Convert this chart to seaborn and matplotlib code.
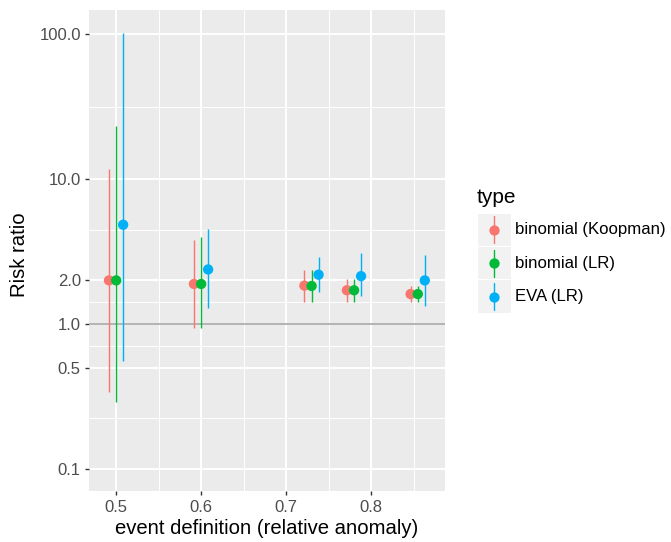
import matplotlib
matplotlib.use("Agg")
import matplotlib.pyplot as plt
from matplotlib.lines import Line2D
from matplotlib.patches import Rectangle
import numpy as np
import pandas as pd
import seaborn as sns

# event definitions (relative anomaly) and method types
event_levels = [0.5, 0.6, 0.73, 0.78, 0.855]
types = ["binomial (Koopman)", "binomial (LR)", "EVA (LR)"]

# risk ratio estimates and confidence bounds
rr_koopman = [2.0, 1.89, 1.84, 1.71, 1.61]
lo_koopman = [0.34, 0.94, 1.43, 1.42, 1.41]
hi_koopman = [11.8, 3.8, 2.35, 2.03, 1.84]

rr_lr = [2.0, 1.89, 1.83, 1.71, 1.61]
lo_lr = [0.29, 0.94, 1.43, 1.42, 1.41]
hi_lr = [23.1, 3.96, 2.35, 2.04, 1.84]

rr_eva = [4.84, 2.38, 2.19, 2.14, 2.0]
lo_eva = [0.56, 1.30, 1.67, 1.57, 1.34]
hi_eva = [101.0, 4.5, 2.88, 3.1, 2.99]

y_breaks = [0.1, 0.5, 1.0, 2.0, 10.0, 100.0]
y_labels = ["0.1", "0.5", "1.0", "2.0", "10.0", "100.0"]
x_breaks = [0.5, 0.6, 0.7, 0.8]
x_labels = ["0.5", "0.6", "0.7", "0.8"]

palette = {"binomial (Koopman)": "#F8766D", "binomial (LR)": "#00BA38", "EVA (LR)": "#00B0F6"}
dodge = {"binomial (Koopman)": -0.0085, "binomial (LR)": 0.0, "EVA (LR)": 0.0082}

frames = []
for name, rr, lo, hi in zip(types, [rr_koopman, rr_lr, rr_eva],
                            [lo_koopman, lo_lr, lo_eva], [hi_koopman, hi_lr, hi_eva]):
    frames.append(pd.DataFrame({"event": event_levels, "type": name, "rr": rr, "lo": lo, "hi": hi}))
df = pd.concat(frames, ignore_index=True)
df["x"] = df["event"] + df["type"].map(dodge)

sns.set_theme(style="darkgrid")
plt.rcParams["font.family"] = ["Liberation Sans", "DejaVu Sans"]

W, H = 671, 542
fig = plt.figure(figsize=(W / 100, H / 100), dpi=100)
left, right, top, bottom = 88.5, 445, 10, 490.5
ax = fig.add_axes([left / W, 1 - bottom / H, (right - left) / W, (bottom - top) / H])
ax.set_facecolor("#EBEBEB")
for s in ax.spines.values():
    s.set_visible(False)

ax.set_yscale("log")
ax.set_xlim(0.4674, 0.887)
ax.set_ylim(10 ** -1.148, 10 ** 2.166)

# grid: major + ggplot-style minor breaks (midpoints)
lb = np.log10(y_breaks)
y_minor = 10 ** ((lb[:-1] + lb[1:]) / 2)
x_minor = [0.55, 0.65, 0.75, 0.85]
ax.set_yticks(y_breaks)
ax.set_yticklabels(y_labels)
ax.set_yticks(y_minor, minor=True)
ax.set_xticks(x_breaks)
ax.set_xticklabels(x_labels)
ax.set_xticks(x_minor, minor=True)
ax.yaxis.set_minor_formatter(matplotlib.ticker.NullFormatter())
ax.grid(which="major", color="white", linewidth=1.4)
ax.grid(which="minor", color="white", linewidth=0.7)
ax.tick_params(which="major", length=3, width=1.0, color="#333333", labelsize=12,
               labelcolor="#4D4D4D", pad=2.5, bottom=True, left=True)
ax.tick_params(axis="x", which="major", pad=4)
ax.tick_params(which="minor", length=0)
ax.set_axisbelow(True)

ax.axhline(1.0, color="#B3B3B3", linewidth=1.4, zorder=1.5)

for name in types:
    sub = df[df["type"] == name]
    ax.vlines(sub["x"], sub["lo"], sub["hi"], colors=palette[name], linewidth=1.0, zorder=2)
sns.scatterplot(data=df, x="x", y="rr", hue="type", palette=palette, s=55,
                edgecolor="none", linewidth=0, legend=False, ax=ax, zorder=3)

ax.set_xlabel("event definition (relative anomaly)", fontsize=14.6, color="black", labelpad=3)
ax.set_ylabel("Risk ratio", fontsize=14.6, color="black", va="center")
ax.yaxis.set_label_coords((19 - left) / (right - left), 0.49)

# legend drawn ggplot-style with grey key boxes
def fx(px):
    return px / W

def fy(py):
    return 1 - py / H

fig.text(fx(477), fy(203), "type", fontsize=15, color="black", va="baseline", ha="left")
key_w, key_h = 32.5, 32.5
for i, name in enumerate(types):
    y0 = 213.5 + i * 33.4
    fig.add_artist(Rectangle((fx(478), fy(y0 + key_h)), key_w / W, key_h / H,
                             transform=fig.transFigure, facecolor="#F2F2F2", edgecolor="none"))
    cx, cy = 478 + key_w / 2, y0 + key_h / 2
    fig.add_artist(Line2D([fx(cx), fx(cx)], [fy(cy - 13.5), fy(cy + 13.5)], color=palette[name],
                          linewidth=1.0, transform=fig.transFigure))
    fig.add_artist(Line2D([fx(cx)], [fy(cy)], marker="o", markersize=7.4, color=palette[name],
                          markeredgewidth=0, linestyle="none", transform=fig.transFigure))
    fig.text(fx(515), fy(cy), name, fontsize=12.1, color="black", va="center", ha="left")

fig.savefig("out.png", dpi=100)
